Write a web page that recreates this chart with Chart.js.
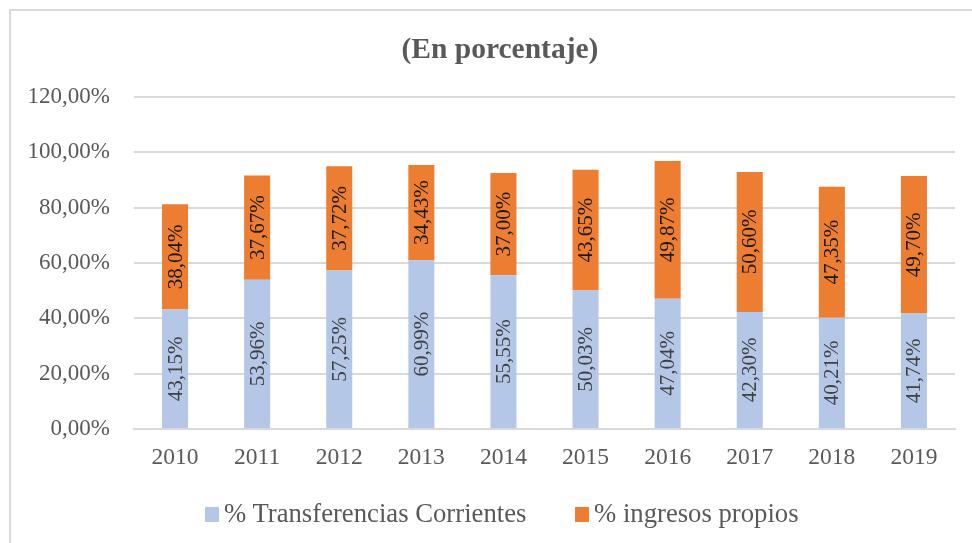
<!DOCTYPE html>
<html>
<head>
<meta charset="utf-8">
<script src="https://cdn.jsdelivr.net/npm/chart.js@4.4.1/dist/chart.umd.min.js"></script>
<style>
  html, body { margin: 0; padding: 0; background: #fff; }
  #wrap { position: relative; width: 972px; height: 543px; overflow: hidden; }
  #frame { position: absolute; left: 9px; top: 9px; width: 1000px; height: 600px;
           border-left: 2px solid #d9d9d9; border-top: 2px solid #d9d9d9; box-sizing: border-box; }
  canvas { position: absolute; left: 0; top: 0; }
  #title { position: absolute; left: 300px; width: 400px; top: 30px; height: 36px; line-height: 36px;
           text-align: center; font-family: "Liberation Serif", "Times New Roman", serif;
           font-size: 29.5px; font-weight: bold; color: #595959; white-space: nowrap; }
  #legend { position: absolute; top: 495px; left: 0; width: 972px; height: 36px;
            font-family: "Liberation Serif", "Times New Roman", serif; font-size: 26.7px; color: #595959; }
  .item { position: absolute; top: 0; height: 36px; line-height: 36px; white-space: nowrap; }
  .sw { position: absolute; top: 12px; width: 14px; height: 15px; }
  .lt { position: absolute; top: 0; }
</style>
</head>
<body>
<div id="wrap">
  <div id="frame"></div>
  <canvas id="c" width="972" height="543"></canvas>
  <div id="title"></div>
  <div id="legend"></div>
</div>
<script>
const categories = ['2010','2011','2012','2013','2014','2015','2016','2017','2018','2019'];
const transferencias = [43.15, 53.96, 57.25, 60.99, 55.55, 50.03, 47.04, 42.30, 40.21, 41.74];
const ingresosPropios = [38.04, 37.67, 37.72, 34.43, 37.00, 43.65, 49.87, 50.60, 47.35, 49.70];
const seriesNames = ['% Transferencias Corrientes', '% ingresos propios'];
const seriesColors = ['#B4C7E7', '#ED7D31'];
const labelColors = ['#404040', '#1a1a1a'];
const titleText = '(En porcentaje)';

function fmt(v) { return v.toFixed(2).replace('.', ',') + '%'; }

document.getElementById('title').textContent = titleText;

const barLabels = {
  id: 'barLabels',
  afterDatasetsDraw(chart) {
    const ctx = chart.ctx;
    ctx.save();
    ctx.font = '21px "Liberation Serif", "Times New Roman", serif';
    ctx.textAlign = 'center';
    ctx.textBaseline = 'middle';
    chart.data.datasets.forEach((ds, di) => {
      const meta = chart.getDatasetMeta(di);
      meta.data.forEach((el, i) => {
        const cy = (el.y + el.base) / 2;
        ctx.save();
        ctx.translate(el.x, cy);
        ctx.rotate(-Math.PI / 2);
        ctx.fillStyle = labelColors[di];
        ctx.fillText(fmt(ds.data[i]), 0, 1);
        ctx.restore();
      });
    });
    ctx.restore();
  }
};

new Chart(document.getElementById('c'), {
  type: 'bar',
  data: {
    labels: categories,
    datasets: [
      { label: seriesNames[0], data: transferencias, backgroundColor: seriesColors[0] },
      { label: seriesNames[1], data: ingresosPropios, backgroundColor: seriesColors[1] }
    ]
  },
  options: {
    responsive: false,
    animation: false,
    devicePixelRatio: 1,
    layout: { padding: { left: 0, right: 17, top: 97, bottom: 0 } },
    datasets: { bar: { categoryPercentage: 1, barPercentage: 0.317 } },
    plugins: {
      legend: { display: false },
      tooltip: { enabled: false },
      title: { display: false }
    },
    scales: {
      x: {
        stacked: true,
        grid: { display: false, drawTicks: false },
        border: { display: true, color: '#d9d9d9', width: 2 },
        ticks: { color: '#595959', padding: 15,
          font: { family: '"Liberation Serif", "Times New Roman", serif', size: 23.5 } },
        afterFit(s) { s.height = 114; }
      },
      y: {
        stacked: true, min: 0, max: 120,
        grid: { color: '#d9d9d9', lineWidth: 2, drawTicks: false },
        border: { display: false },
        ticks: { stepSize: 20, color: '#595959', padding: 24,
          font: { family: '"Liberation Serif", "Times New Roman", serif', size: 23 },
          callback: v => fmt(v) },
        afterFit(s) { s.width = 134; }
      }
    }
  },
  plugins: [barLabels]
});

// HTML legend
const legend = document.getElementById('legend');
const lefts = [205, 575];
seriesNames.forEach((name, i) => {
  const it = document.createElement('div');
  it.className = 'item';
  it.style.left = lefts[i] + 'px';
  const sw = document.createElement('div');
  sw.className = 'sw';
  sw.style.left = '0px';
  sw.style.background = seriesColors[i];
  const t = document.createElement('span');
  t.className = 'lt';
  t.style.left = '19px';
  t.textContent = name;
  it.appendChild(sw); it.appendChild(t);
  legend.appendChild(it);
});
</script>
</body>
</html>
